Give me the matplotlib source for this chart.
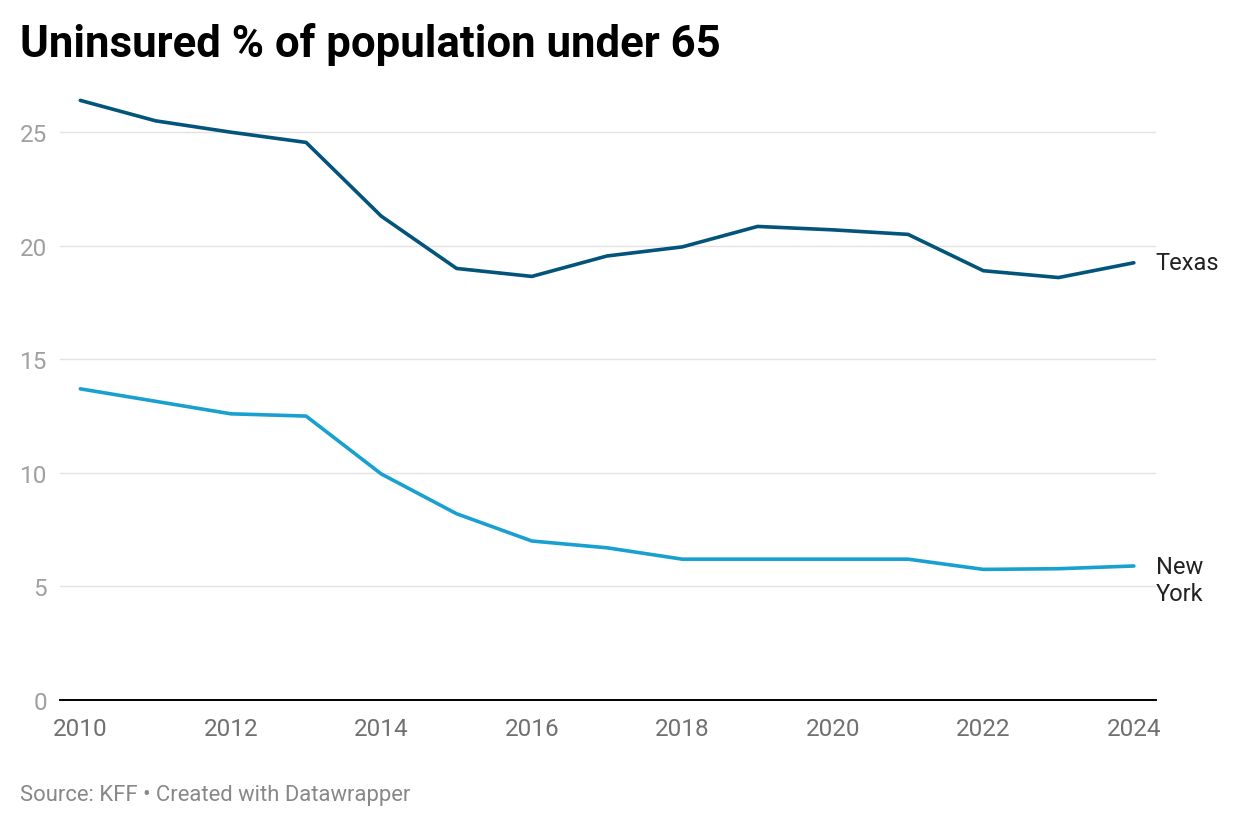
import matplotlib.pyplot as plt

years = list(range(2010, 2025))
texas = [26.4, 25.5, 25.0, 24.55, 21.3, 19.0, 18.65, 19.55, 19.95, 20.85,
         20.7, 20.5, 18.9, 18.6, 19.25]
new_york = [13.7, 13.15, 12.6, 12.5, 9.95, 8.2, 7.0, 6.7, 6.2, 6.2,
            6.2, 6.2, 5.75, 5.78, 5.9]
y_ticks = [0, 5, 10, 15, 20, 25]
x_ticks = [2010, 2012, 2014, 2016, 2018, 2020, 2022, 2024]


def main():
    plt.rcParams['font.family'] = ['Roboto', 'DejaVu Sans']

    fig = plt.figure(figsize=(12.4, 8.28), dpi=100)
    ax = fig.add_axes([0.0484, 0.1534, 0.8836, 0.7406])

    ax.plot(years, texas, color='#02547b', lw=2.6, solid_capstyle='round',
            solid_joinstyle='round', zorder=3)
    ax.plot(years, new_york, color='#18a1d0', lw=2.6, solid_capstyle='round',
            solid_joinstyle='round', zorder=3)

    ax.set_xlim(2009.73, 2024.29)
    ax.set_ylim(0, 27)

    for s in ['top', 'right', 'left']:
        ax.spines[s].set_visible(False)
    ax.spines['bottom'].set_color('#000000')
    ax.spines['bottom'].set_linewidth(1.4)

    ax.set_yticks(y_ticks)
    ax.set_xticks(x_ticks)
    ax.grid(axis='y', color='#e2e2e2', lw=1)
    ax.set_axisbelow(True)
    ax.tick_params(axis='y', length=0, pad=9.5, labelsize=17.5, labelcolor='#a0a0a0')
    ax.tick_params(axis='x', length=0, pad=12.5, labelsize=17.5, labelcolor='#707070')

    ax.annotate('Texas', (2024.29, texas[-1]), xytext=(0, 0),
                textcoords='offset points', fontsize=17, color='#222222',
                va='center', ha='left')
    ax.annotate('New\nYork', (2024.29, new_york[-1]), xytext=(0, -10),
                textcoords='offset points', fontsize=17, color='#222222',
                va='center', ha='left', linespacing=1.2)

    fig.text(0.016, 0.9457, 'Uninsured % of population under 65', fontsize=31.5,
             fontweight='bold', color='#000000', va='center', ha='left')
    fig.text(0.016, 0.039, 'Source: KFF \u2022 Created with Datawrapper',
             fontsize=15.8, color='#888888', va='center', ha='left')

    fig.savefig('out.png', dpi=100)


if __name__ == '__main__':
    main()
